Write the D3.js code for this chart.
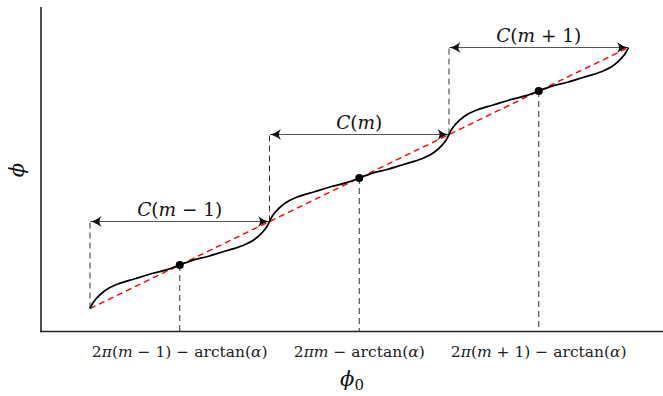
<!DOCTYPE html>
<meta charset="utf-8">
<script src="https://d3js.org/d3.v7.min.js"></script>
<style>
  body { margin: 0; background: #fff; }
  text { font-family: "DejaVu Serif", "Liberation Serif", serif; fill: #111; }
</style>
<div id="my_dataviz"></div>
<script>

  // phi0 / phi (one unit = one period, centers at m-1, m, m+1)
  var curvePhi0 = [-0.5, -0.485, -0.464, -0.416, -0.344, -0.25, -0.155, -0.065, 0, 0.065, 0.155, 0.25, 0.344, 0.416, 0.464, 0.485,
                    0.5, 0.515, 0.536, 0.584, 0.656, 0.75, 0.845, 0.935, 1, 1.065, 1.155, 1.25, 1.344, 1.416, 1.464, 1.485,
                    1.5, 1.515, 1.536, 1.584, 1.656, 1.75, 1.845, 1.935, 2, 2.065, 2.155, 2.25, 2.344, 2.416, 2.464, 2.485, 2.5];
  var curvePhi  = [-0.5, -0.44, -0.384, -0.293, -0.218, -0.158, -0.098, -0.05, 0, 0.05, 0.098, 0.158, 0.218, 0.293, 0.384, 0.44,
                    0.5, 0.56, 0.616, 0.707, 0.782, 0.842, 0.902, 0.95, 1, 1.05, 1.098, 1.158, 1.218, 1.293, 1.384, 1.44,
                    1.5, 1.56, 1.616, 1.707, 1.782, 1.842, 1.902, 1.95, 2, 2.05, 2.098, 2.158, 2.218, 2.293, 2.384, 2.44, 2.5];

  // fixed points (centers) and period boundaries
  var centers = [0, 1, 2];
  var bounds = [-0.5, 0.5, 1.5, 2.5];
  var tickLabels = ["2π(m − 1) − arctan(α)", "2πm − arctan(α)", "2π(m + 1) − arctan(α)"];
  var cellLabels = ["(m − 1)", "(m)", "(m + 1)"];

  var W = 663, H = 396;
  var x = d3.scaleLinear().domain([-0.5, 2.5]).range([90, 628.5]);
  var y = d3.scaleLinear().domain([-0.5, 2.5]).range([308.5, 47.5]);

  var svg = d3.select("#my_dataviz").append("svg")
      .attr("width", W).attr("height", H);

  // arrow head, stealth-like
  var defs = svg.append("defs");
  defs.append("marker")
      .attr("id", "head")
      .attr("viewBox", "-12 -6 14 12")
      .attr("refX", 0).attr("refY", 0)
      .attr("markerWidth", 14).attr("markerHeight", 12)
      .attr("markerUnits", "userSpaceOnUse")
      .attr("orient", "auto-start-reverse")
    .append("path")
      .attr("d", "M0,0 Q-5,-1 -11,-5.5 Q-7,0 -11,5.5 Q-5,1 0,0 Z")
      .attr("fill", "#111");

  // axes
  var x0 = 41, yTop = 7, yBot = 331.5;
  svg.append("line").attr("x1", x0).attr("x2", x0).attr("y1", yTop).attr("y2", yBot + 0.8)
      .attr("stroke", "#222").attr("stroke-width", 1.6);
  svg.append("line").attr("x1", x0 - 0.8).attr("x2", W).attr("y1", yBot).attr("y2", yBot)
      .attr("stroke", "#222").attr("stroke-width", 1.6);

  // dashed drop lines from the fixed points
  svg.selectAll(".drop").data(centers).enter().append("line")
      .attr("x1", d => x(d)).attr("x2", d => x(d))
      .attr("y1", d => y(d)).attr("y2", yBot)
      .attr("stroke", "#333").attr("stroke-width", 1).attr("stroke-dasharray", "6,4");

  // dashed lines at the left boundary of each cell up to the arrow
  svg.selectAll(".bnd").data(bounds.slice(0, 3)).enter().append("line")
      .attr("x1", d => x(d)).attr("x2", d => x(d))
      .attr("y1", d => y(d)).attr("y2", d => y(d + 1))
      .attr("stroke", "#333").attr("stroke-width", 1).attr("stroke-dasharray", "6,4");

  // double arrows
  svg.selectAll(".arr").data(bounds.slice(0, 3)).enter().append("line")
      .attr("x1", d => x(d) + 0.5).attr("x2", d => x(d + 1) - 0.5)
      .attr("y1", d => y(d + 1)).attr("y2", d => y(d + 1))
      .attr("stroke", "#555").attr("stroke-width", 1.2)
      .attr("marker-start", "url(#head)").attr("marker-end", "url(#head)");

  // red identity line
  svg.append("line")
      .attr("x1", x(-0.5)).attr("y1", y(-0.5)).attr("x2", x(2.5)).attr("y2", y(2.5))
      .attr("stroke", "#f00").attr("stroke-width", 1.4).attr("stroke-dasharray", "6,4");

  // the curve
  var pts = curvePhi0.map((d, i) => [d, curvePhi[i]]);
  svg.append("path")
      .datum(pts)
      .attr("d", d3.line().x(d => x(d[0])).y(d => y(d[1])).curve(d3.curveMonotoneX))
      .attr("fill", "none").attr("stroke", "#000").attr("stroke-width", 1.7);

  svg.selectAll(".dot").data(centers).enter().append("circle")
      .attr("cx", d => x(d)).attr("cy", d => y(d)).attr("r", 4).attr("fill", "#000");

  // math-ish text: italic for m, π, α
  function mathText(sel, str) {
    var parts = str.match(/[mπα]|[^mπα]+/g);
    sel.selectAll(null).data(parts).enter().append("tspan")
        .style("font-style", d => /[mπα]/.test(d) ? "italic" : "normal")
        .text(d => d);
  }

  // cell labels
  bounds.slice(0, 3).forEach(function (b, i) {
    var t = svg.append("text")
        .attr("x", x(b + 0.5)).attr("y", y(b + 1) - 6)
        .attr("text-anchor", "middle").style("font-size", "18.5px");
    t.append("tspan").style("font-style", "italic").text("C");
    mathText(t, cellLabels[i]);
  });

  // tick labels
  centers.forEach(function (c, i) {
    var t = svg.append("text")
        .attr("x", x(c)).attr("y", 357)
        .attr("text-anchor", "middle").style("font-size", "15.5px").style("fill", "#222");
    mathText(t, tickLabels[i]);
  });

  // axis titles
  var xt = svg.append("text").attr("x", 352).attr("y", 386).attr("text-anchor", "middle")
      .style("font-size", "21px");
  xt.append("tspan").style("font-style", "italic").text("ϕ");
  xt.append("tspan").attr("dy", 4).style("font-size", "15px").text("0");

  svg.append("text")
      .attr("transform", "translate(24,170) rotate(-90)")
      .attr("text-anchor", "middle").style("font-size", "21px").style("font-style", "italic")
      .text("ϕ");

</script>
